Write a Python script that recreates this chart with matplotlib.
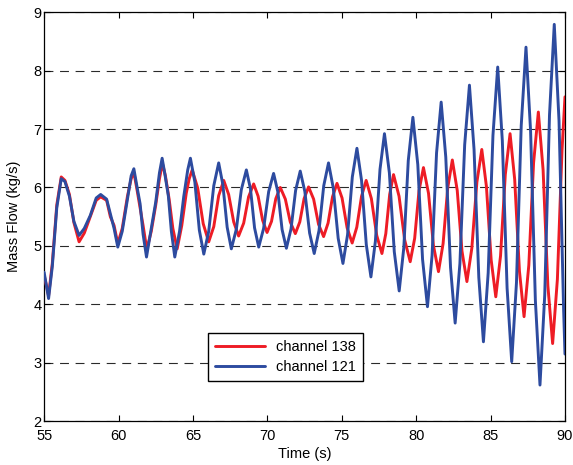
import matplotlib
matplotlib.use("Agg")
import matplotlib.pyplot as plt

# values (time in s, mass flow in kg/s)
t_138 = [55.00, 55.30, 55.55, 55.85, 56.15, 56.40, 56.70, 57.00, 57.35, 57.70,
         58.10, 58.50, 58.80, 59.20, 59.45, 59.70, 59.95, 60.25, 60.60, 60.85,
         61.03, 61.25, 61.45, 61.65, 61.90, 62.20, 62.50, 62.75, 62.95, 63.15,
         63.40, 63.65, 63.94, 64.25, 64.55, 64.75, 64.95, 65.32, 65.69, 66.06,
         66.40, 66.73, 67.07, 67.40, 67.74, 68.07, 68.41, 68.74, 69.08, 69.38,
         69.68, 69.98, 70.28, 70.57, 70.87, 71.21, 71.54, 71.88, 72.18, 72.47,
         72.77, 73.11, 73.44, 73.78, 74.08, 74.38, 74.68, 75.02, 75.36, 75.70,
         76.01, 76.33, 76.64, 76.99, 77.35, 77.70, 77.96, 78.22, 78.48, 78.85,
         79.23, 79.60, 79.90, 80.19, 80.49, 80.83, 81.16, 81.50, 81.81, 82.12,
         82.43, 82.76, 83.08, 83.41, 83.74, 84.08, 84.41, 84.72, 85.04, 85.35,
         85.67, 85.99, 86.31, 86.62, 86.94, 87.25, 87.57, 87.89, 88.21, 88.53,
         88.85, 89.17, 89.49, 89.80, 90.00]
flow_138 = [4.50, 4.15, 4.70, 5.70, 6.18, 6.12, 5.88, 5.40, 5.07, 5.22,
            5.50, 5.78, 5.84, 5.78, 5.50, 5.35, 5.04, 5.30, 5.85, 6.15,
            6.26, 5.95, 5.65, 5.35, 4.94, 5.25, 5.70, 6.15, 6.41, 6.20,
            5.80, 5.30, 4.95, 5.35, 5.90, 6.15, 6.30, 5.99, 5.38, 5.07,
            5.33, 5.86, 6.12, 5.88, 5.41, 5.17, 5.39, 5.84, 6.06, 5.85,
            5.44, 5.23, 5.42, 5.81, 6.00, 5.80, 5.41, 5.21, 5.41, 5.81,
            6.01, 5.80, 5.37, 5.16, 5.39, 5.84, 6.07, 5.82, 5.31, 5.05,
            5.32, 5.85, 6.12, 5.81, 5.18, 4.87, 5.21, 5.88, 6.22, 5.85,
            5.10, 4.73, 5.13, 5.94, 6.34, 5.90, 5.01, 4.56, 5.04, 5.99,
            6.47, 5.95, 4.91, 4.39, 4.96, 6.09, 6.65, 6.02, 4.76, 4.13,
            4.83, 6.22, 6.92, 6.14, 4.57, 3.79, 4.67, 6.42, 7.29, 6.30,
            4.32, 3.33, 4.43, 6.63, 7.55]

t_121 = [55.00, 55.30, 55.55, 55.85, 56.15, 56.40, 56.70, 57.00, 57.35, 57.70,
         58.10, 58.50, 58.80, 59.20, 59.50, 59.70, 59.95, 60.25, 60.60, 60.85,
         61.03, 61.25, 61.45, 61.65, 61.88, 62.20, 62.50, 62.75, 62.93, 63.10,
         63.35, 63.55, 63.78, 64.10, 64.38, 64.65, 64.83, 65.13, 65.43, 65.73,
         66.06, 66.40, 66.73, 67.01, 67.30, 67.58, 67.92, 68.25, 68.59, 68.87,
         69.14, 69.42, 69.75, 70.09, 70.42, 70.71, 70.99, 71.28, 71.59, 71.90,
         72.21, 72.52, 72.84, 73.15, 73.47, 73.79, 74.11, 74.43, 74.76, 75.08,
         75.39, 75.71, 76.02, 76.33, 76.65, 76.96, 77.26, 77.57, 77.87, 78.20,
         78.53, 78.86, 79.17, 79.47, 79.78, 80.11, 80.43, 80.76, 81.07, 81.37,
         81.68, 81.99, 82.31, 82.62, 82.94, 83.26, 83.58, 83.89, 84.21, 84.52,
         84.84, 85.16, 85.48, 85.79, 86.11, 86.42, 86.74, 87.06, 87.38, 87.69,
         88.01, 88.32, 88.64, 88.96, 89.28, 89.60, 89.91, 90.00]
flow_121 = [4.55, 4.10, 4.65, 5.65, 6.15, 6.10, 5.85, 5.42, 5.18, 5.30,
            5.52, 5.82, 5.88, 5.80, 5.50, 5.30, 4.98, 5.25, 5.80, 6.20,
            6.32, 6.00, 5.72, 5.20, 4.81, 5.30, 5.75, 6.25, 6.50, 6.25,
            5.85, 5.25, 4.81, 5.25, 5.84, 6.30, 6.50, 6.09, 5.27, 4.86,
            5.25, 6.03, 6.42, 6.05, 5.32, 4.95, 5.29, 5.96, 6.30, 5.97,
            5.31, 4.98, 5.30, 5.93, 6.24, 5.92, 5.28, 4.96, 5.29, 5.95,
            6.28, 5.93, 5.22, 4.87, 5.26, 6.03, 6.42, 5.99, 5.13, 4.70,
            5.19, 6.18, 6.67, 6.12, 5.02, 4.47, 5.08, 6.31, 6.92, 6.25,
            4.90, 4.23, 4.97, 6.46, 7.20, 6.39, 4.77, 3.96, 4.84, 6.59,
            7.46, 6.52, 4.63, 3.68, 4.70, 6.73, 7.75, 6.65, 4.46, 3.36,
            4.54, 6.89, 8.06, 6.80, 4.28, 3.02, 4.37, 7.06, 8.40, 6.96,
            4.07, 2.62, 4.16, 7.24, 8.79, 7.14, 3.90, 3.15]

x_ticks = [55, 60, 65, 70, 75, 80, 85, 90]
y_ticks = [2, 3, 4, 5, 6, 7, 8, 9]

plt.rcParams["font.family"] = ["Liberation Sans", "DejaVu Sans"]

fig = plt.figure(figsize=(5.73, 4.65), dpi=100)
ax = fig.add_axes([0.077, 0.094, 0.909, 0.880])

line_kw = dict(lw=2.1, solid_joinstyle="round", solid_capstyle="round")
ax.plot(t_138, flow_138, color="#ee1c25", label="channel 138", zorder=3, **line_kw)
ax.plot(t_121, flow_121, color="#2d4b9f", label="channel 121", zorder=4, **line_kw)

ax.set_xlim(55, 90)
ax.set_ylim(2, 9)
ax.set_xticks(x_ticks)
ax.set_yticks(y_ticks)
ax.tick_params(direction="in", top=True, right=True, length=4, width=0.8,
               labelsize=10.5, pad=2)
ax.tick_params(axis="x", pad=5.5)
ax.yaxis.grid(True, color="#2a2a2a", lw=0.8, linestyle=(0, (8, 6)))
ax.set_axisbelow(True)
for s in ax.spines.values():
    s.set_linewidth(0.9)

ax.set_xlabel("Time (s)", fontsize=10.5, labelpad=3)
ax.set_ylabel("Mass Flow (kg/s)", fontsize=10.5, labelpad=9)

leg = ax.legend(loc="lower left", bbox_to_anchor=(0.30, 0.08), fontsize=10.5,
                handlelength=3.4, fancybox=False, framealpha=1,
                edgecolor="black", borderpad=0.5, labelspacing=0.4)
leg.get_frame().set_linewidth(1.0)

fig.savefig("out.png", dpi=100)
